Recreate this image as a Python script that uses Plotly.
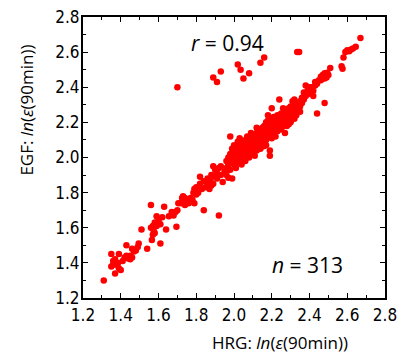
import plotly.graph_objects as go

# HRG (x) and EGF (y) ln(eps(90min)) values
outliers = [(1.70,2.40),(1.89,2.455),(1.91,2.43),(1.93,2.49),(2.02,2.53),(2.035,2.50),(2.05,2.45),
            (2.08,2.48),(2.14,2.54),(2.16,2.57),(2.335,2.60),(2.345,2.60)]
low = [(1.31,1.30),(1.37,1.34),(1.35,1.38),(1.36,1.41),(1.39,1.45),(1.35,1.45),(1.38,1.39),(1.39,1.37),
       (1.385,1.40),(1.41,1.41),(1.40,1.36),(1.36,1.39),(1.37,1.42),(1.43,1.44),(1.45,1.42),(1.46,1.43),
       (1.44,1.425),(1.43,1.50),(1.46,1.48),(1.48,1.47),(1.47,1.465),(1.49,1.49),(1.495,1.51),(1.51,1.59),
       (1.54,1.48),(1.45,1.44),(1.42,1.43)]
mid_low = [(1.56,1.73),(1.63,1.72),(1.56,1.60),(1.57,1.61),(1.58,1.63),(1.575,1.58),(1.59,1.61),(1.60,1.64),
           (1.565,1.53),(1.57,1.56),(1.58,1.57),(1.61,1.51),(1.59,1.665),(1.62,1.66),(1.61,1.62),(1.64,1.59),
           (1.655,1.665),(1.67,1.69),(1.69,1.69),(1.70,1.70),(1.68,1.67),(1.695,1.605),(1.72,1.74),(1.74,1.77),
           (1.76,1.74),(1.74,1.73),(1.77,1.77),(1.78,1.76),(1.73,1.78),(1.725,1.77),(1.705,1.74),(1.75,1.75),
           (1.79,1.74),(1.84,1.70),(1.92,1.67)]
mid = [(1.785,1.80),(1.79,1.82),(1.80,1.83),(1.81,1.80),(1.82,1.85),(1.82,1.89),(1.84,1.865),(1.85,1.83),
       (1.86,1.85),(1.86,1.88),(1.875,1.87),(1.88,1.84),(1.89,1.85),(1.90,1.89),(1.88,1.90),(1.89,1.95),
       (1.90,1.93),(1.91,1.91),(1.92,1.94),(1.93,1.90),(1.94,1.86),(1.95,1.92),(1.96,1.90),(1.97,1.885),
       (1.96,1.94),(1.98,1.93),(1.99,1.88),(1.87,1.82),(1.83,1.82),(1.80,1.79),(1.93,1.95),(1.91,1.88)]
dense1 = [(1.96,1.98),(1.97,2.00),(1.97,1.96),(1.98,1.99),(1.98,2.02),(1.99,1.97),(1.99,2.01),(2.00,2.00),
          (2.00,2.03),(2.00,1.96),(2.01,1.99),(2.01,2.02),(2.01,2.05),(2.02,2.00),(2.02,1.97),(2.02,2.04),
          (2.03,2.02),(2.03,2.06),(2.03,1.99),(2.04,2.03),(2.04,2.08),(2.04,2.00),(2.05,2.05),(2.05,2.02),
          (2.05,2.09),(2.05,1.98),(2.02,2.09),(2.03,2.11),(2.06,2.10),(1.99,2.05),(2.00,2.07),(2.04,1.96),
          (2.06,1.98),(1.97,1.93),(2.01,1.94),(1.98,2.12)]
dense2 = [(2.06,2.04),(2.06,2.07),(2.07,2.01),(2.07,2.05),(2.07,2.09),(2.07,2.12),(2.08,2.03),(2.08,2.06),
          (2.08,2.10),(2.09,2.04),(2.09,2.08),(2.09,2.11),(2.10,2.02),(2.10,2.06),(2.10,2.09),(2.10,2.13),
          (2.11,2.05),(2.11,2.08),(2.11,2.12),(2.12,2.04),(2.12,2.07),(2.12,2.10),(2.12,2.14),(2.13,2.06),
          (2.13,2.09),(2.13,2.12),(2.13,2.16),(2.14,2.08),(2.14,2.11),(2.14,2.14),(2.15,2.07),(2.15,2.10),
          (2.15,2.13),(2.15,2.17),(2.08,2.00),(2.11,2.01),(2.09,2.14),(2.14,2.05),(2.157,2.064),(2.12,2.17)]
dense3 = [(2.16,2.12),(2.16,2.15),(2.16,2.18),(2.17,2.10),(2.17,2.14),(2.17,2.17),(2.17,2.20),(2.18,2.12),
          (2.18,2.15),(2.18,2.18),(2.18,2.21),(2.19,2.13),(2.19,2.16),(2.19,2.19),(2.19,2.22),(2.20,2.11),
          (2.20,2.15),(2.20,2.18),(2.20,2.21),(2.21,2.14),(2.21,2.17),(2.21,2.20),(2.21,2.23),(2.22,2.16),
          (2.22,2.19),(2.22,2.22),(2.23,2.15),(2.23,2.18),(2.23,2.21),(2.23,2.24),(2.24,2.17),(2.24,2.20),
          (2.24,2.23),(2.25,2.19),(2.25,2.22),(2.25,2.25),(2.20,2.28),(2.24,2.33),(2.19,2.04),(2.19,2.01),
          (2.16,2.09),(2.18,2.24),(2.22,2.12),(2.25,2.16),(2.17,2.07)]
dense4 = [(2.26,2.18),(2.26,2.21),(2.26,2.24),(2.27,2.20),(2.27,2.23),(2.27,2.26),(2.27,2.14),(2.28,2.21),
          (2.28,2.24),(2.28,2.27),(2.29,2.22),(2.29,2.25),(2.29,2.28),(2.30,2.23),(2.30,2.26),(2.30,2.29),
          (2.31,2.25),(2.31,2.28),(2.31,2.32),(2.32,2.22),(2.32,2.26),(2.32,2.29),(2.32,2.33),(2.33,2.27),
          (2.33,2.30),(2.34,2.28),(2.34,2.31),(2.35,2.29),(2.35,2.32),(2.28,2.18),(2.30,2.20),(2.26,2.28),
          (2.33,2.24),(2.35,2.26),(2.29,2.19)]
upper = [(2.36,2.31),(2.36,2.34),(2.37,2.33),(2.37,2.37),(2.38,2.35),(2.38,2.41),(2.39,2.38),(2.39,2.36),
         (2.40,2.37),(2.40,2.39),(2.41,2.40),(2.41,2.37),(2.42,2.35),(2.42,2.38),(2.43,2.41),(2.43,2.43),
         (2.44,2.42),(2.45,2.44),(2.46,2.44),(2.46,2.46),(2.47,2.45),(2.47,2.47),(2.48,2.45),(2.48,2.48),
         (2.49,2.455),(2.49,2.47),(2.50,2.47),(2.494,2.482),(2.51,2.51),(2.48,2.31),(2.44,2.25),(2.40,2.40)]
top = [(2.57,2.52),(2.575,2.505),(2.58,2.57),(2.59,2.60),(2.60,2.61),(2.61,2.605),(2.62,2.615),
       (2.63,2.62),(2.645,2.63),(2.67,2.68)]

points = outliers + low + mid_low + mid + dense1 + dense2 + dense3 + dense4 + upper + top
hrg = [p[0] for p in points]
egf = [p[1] for p in points]

tick_vals = [1.2, 1.4, 1.6, 1.8, 2.0, 2.2, 2.4, 2.6, 2.8]
tick_text = ["1.2", "1.4", "1.6", "1.8", "2.0", "2.2", "2.4", "2.6", "2.8"]

fig = go.Figure()
fig.add_trace(go.Scatter(x=hrg, y=egf, mode="markers",
                         marker=dict(color="#ff0000", size=6.5, line=dict(width=0)),
                         hoverinfo="skip", showlegend=False, cliponaxis=False))

tickfont = dict(family="DejaVu Sans Condensed, Liberation Sans Narrow, sans-serif",
                size=17, color="#000")
axis_common = dict(range=[1.2, 2.8], tickvals=tick_vals, ticktext=tick_text, ticks="inside",
                   ticklen=5, tickwidth=1, tickcolor="#000", showline=True, linecolor="#000",
                   linewidth=2, mirror="allticks", showgrid=False, zeroline=False,
                   tickfont=tickfont, automargin=False,
                   minor=dict(dtick=0.1, tick0=1.2, ticks="inside", ticklen=3, tickcolor="#000",
                              showgrid=False))
fig.update_xaxes(**axis_common, ticklabelstandoff=1)
fig.update_yaxes(**axis_common, ticklabelstandoff=-2)

L, R, T, B = 83, 385, 17, 298
W, H = R - L, B - T
txtfont = dict(family="Open Sans, sans-serif", color="#000")
fig.add_annotation(text="HRG: <i>ln</i>(<i>ε</i>(90min))", xref="paper", yref="paper",
                   x=(280 - L) / W, y=-(342 - B) / H, showarrow=False,
                   font=dict(size=17, **txtfont), xanchor="center", yanchor="middle")
fig.add_annotation(text="EGF: <i>ln</i>(<i>ε</i>(90min))", xref="paper", yref="paper",
                   x=-(L - 27) / W, y=(B - 110.6) / H, showarrow=False, textangle=-90,
                   font=dict(size=17, **txtfont), xanchor="center", yanchor="middle")
fig.add_annotation(text="<i>r</i> = 0.94", xref="paper", yref="paper",
                   x=(227 - L) / W, y=(B - 43) / H, showarrow=False,
                   font=dict(size=21, **txtfont), xanchor="center", yanchor="middle")
fig.add_annotation(text="<i>n</i> = 313", xref="paper", yref="paper",
                   x=(307.5 - L) / W, y=(B - 265) / H, showarrow=False,
                   font=dict(size=21, **txtfont), xanchor="center", yanchor="middle")

fig.update_layout(width=398, height=354, margin=dict(l=L, r=398 - R, t=T, b=354 - B, autoexpand=False),
                  paper_bgcolor="white", plot_bgcolor="white")
fig.write_html("out.html", config={"displayModeBar": False},
               post_script="document.body.style.margin='0px';document.body.style.overflow='hidden';")
